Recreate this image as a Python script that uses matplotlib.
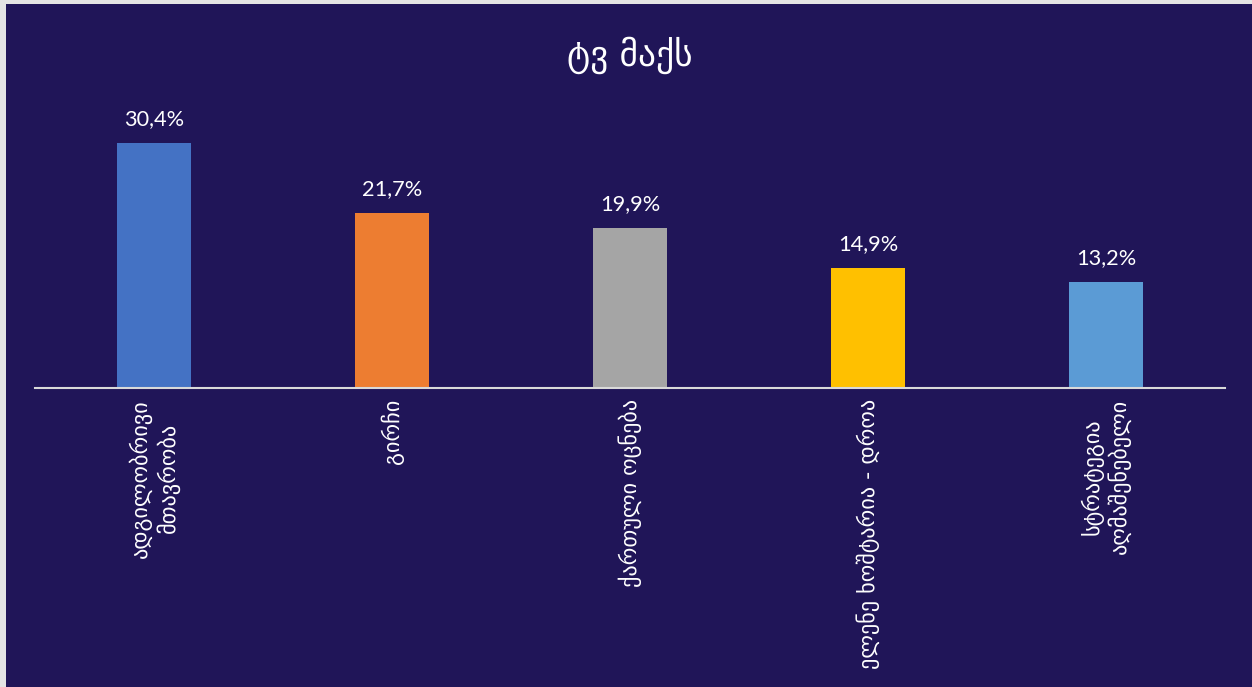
import matplotlib
matplotlib.use("Agg")
import matplotlib.pyplot as plt
from matplotlib.patches import Rectangle

categories = ["ადგილობრივი\nმთავრობა", "გირჩი", "ქართული ოცნება",
              "ელენე ხოშტარია - დროა", "სტრატეგია\nაღმაშენებელი"]
values = [30.4, 21.7, 19.9, 14.9, 13.2]
value_labels = ["30,4%", "21,7%", "19,9%", "14,9%", "13,2%"]
colors = ["#4472C4", "#ED7D31", "#A5A5A5", "#FFC000", "#5B9BD5"]
title = "ტვ მაქს"

BG = "#201558"
W, H = 1252, 687
fig = plt.figure(figsize=(W / 100, H / 100), dpi=100)
fig.patch.set_facecolor("#E4E4E4")
fig.patches.append(Rectangle((6 / W, 0), 1 - 6 / W, 1 - 4 / H, transform=fig.transFigure,
                             facecolor=BG, edgecolor="none", zorder=-5))

left, right = 35 / W, 1225 / W
bottom = (H - 388) / H
top = (H - 95) / H
ax = fig.add_axes([left, bottom, right - left, top - bottom])
ax.set_zorder(2)
ax.set_facecolor("none")

x = list(range(len(values)))
bars = ax.bar(x, values, width=0.315, color=colors, zorder=2)
ax.set_xlim(-0.5, len(values) - 0.5)
ax.set_ylim(0, (388 - 95) / 8.06)

for xi, v, lab in zip(x, values, value_labels):
    ax.annotate(lab, (xi, v), xytext=(0, 10), textcoords="offset points",
                ha="center", va="bottom", color="white", fontsize=15.7,
                family=["Lato", "DejaVu Sans"])

ax.set_xticks(x)
ax.set_xticklabels(categories, rotation=90, ha="center", va="top",
                   multialignment="center", color="white", fontsize=16,
                   family=["DejaVu Sans"], linespacing=1.2)
ax.tick_params(axis="x", length=0, pad=8)
ax.set_yticks([])
for s in ["top", "left", "right"]:
    ax.spines[s].set_visible(False)
ax.spines["bottom"].set_color("#D9D9D9")
ax.spines["bottom"].set_linewidth(1.5)

fig.text(630 / W, 1 - 55 / H, title, ha="center", va="center", color="white",
         fontsize=25.5, family=["DejaVu Sans"], zorder=3)

fig.savefig("out.png", dpi=100, facecolor=fig.get_facecolor())
